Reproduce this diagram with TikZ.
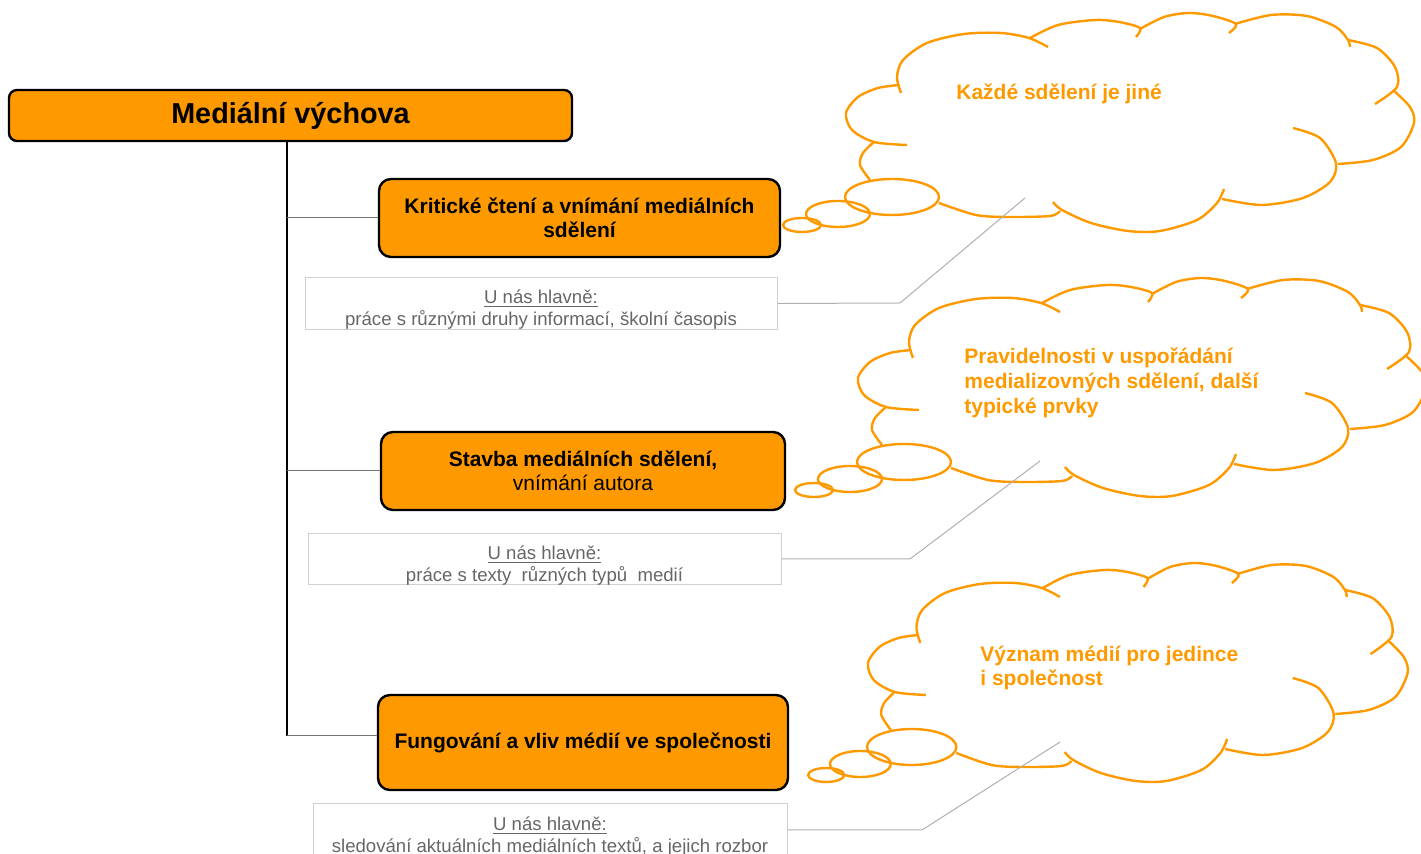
\documentclass[tikz,border=0pt]{standalone}
\usepackage{fontspec}
\setmainfont{Liberation Sans}
\usepackage{xcolor}
\definecolor{mvOrange}{RGB}{255,153,0}
\definecolor{mvText}{RGB}{102,102,102}
\definecolor{mvLine}{RGB}{175,175,175}
\definecolor{mvFrame}{RGB}{208,208,208}

% one thought cloud, drawn in local pixels (left edge = 0, top = 0)
\newcommand{\thoughtcloud}{%
  \draw[cloudline] plot[smooth] coordinates {(55,80) (51,64) (57,47) (81,30) (118,21) (155,20) (183,25) (202,34)};
  \draw[cloudline] plot[smooth] coordinates {(184,25) (212,12) (249,7) (273,9) (294,15) (290,24)};
  \draw[cloudline] plot[smooth] coordinates {(294,16) (318,4) (343,0) (367,3) (390,11) (383,20)};
  \draw[cloudline] plot[smooth] coordinates {(389,11) (425,2) (461,3) (490,14) (502,27) (504,34)};
  \draw[cloudline] plot[smooth] coordinates {(502,27) (531,35) (549,54) (551,74) (529,91)};
  \draw[cloudline] plot[smooth] coordinates {(547,77) (564,94) (568,110) (555,134) (527,147) (492,151)};
  \draw[cloudline] plot[smooth] coordinates {(447,115) (474,125) (490,150) (484,169) (457,185) (416,192) (376,186)};
  \draw[cloudline] plot[smooth] coordinates {(378,176) (371,190) (351,207) (314,218) (282,218) (245,210) (216,197) (207,189)};
  \draw[cloudline] plot[smooth] coordinates {(214,198) (204,203) (163,204) (130,202) (93,190)};
  \draw[cloudline] plot[smooth] coordinates {(53,72) (32,75) (12,84) (0,100) (6,117) (28,129) (61,132)};
  \draw[cloudline] plot[smooth] coordinates {(28,129) (17,140) (14,152) (24,167)};
  % tail
  \draw[cloudline] (46,184) ellipse [x radius=47, y radius=18];
  \draw[cloudline] (-8,201) ellipse [x radius=32, y radius=13];
  \draw[cloudline] (-44,212) ellipse [x radius=19, y radius=7];
}
\newcommand{\notehead}{\rule{0pt}{13pt}\underline{U nás hlavně:}}

\begin{document}
\begin{tikzpicture}[x=0.5pt, y=-0.5pt]
            \tikzstyle{titlebox} = [draw=black, line width=1.2pt, fill=mvOrange, rounded corners=4pt, minimum width=281.5pt, minimum height=25.5pt, font=\fontsize{14.4}{17}\selectfont\bfseries, inner sep=0pt]
            \tikzstyle{topicbox} = [draw=black, line width=1.2pt, fill=mvOrange, rounded corners=6pt, minimum height=39pt, font=\fontsize{10.5}{12}\selectfont\bfseries, align=center, inner sep=0pt]
            \tikzstyle{notebox} = [draw=mvFrame, line width=0.5pt, minimum width=236pt, minimum height=26pt, font=\fontsize{9.3}{11}\selectfont, text=mvText, align=center, inner sep=0pt]
            \tikzstyle{ideatext} = [anchor=base west, inner sep=0pt, align=left, text=mvOrange, font=\fontsize{10.5}{12.5}\selectfont\bfseries]
            \tikzstyle{cloudline} = [draw=mvOrange, line width=1.2pt]
            \tikzstyle{branch} = [draw=black!55, line width=0.5pt]
            \tikzstyle{leader} = [draw=mvLine, line width=0.5pt]

            \useasboundingbox (0,0) rectangle (1421,854);
            \clip (0,0) rectangle (1421,854);

            % Title and trunk
            \node[titlebox] (title) at (290.5,115.5) {Mediální výchova};
            \coordinate (trunktop) at (287,141);
            \coordinate (trunkend) at (287,736);
            \draw[line width=1.3pt] (trunktop) -- (trunkend);

            % Topics
            \node[topicbox, minimum width=200.5pt] (topic1) at (579.5,218) {Kritické čtení a vnímání mediálních\\sdělení};
            \node[topicbox, minimum width=202pt] (topic2) at (583,471) {Stavba mediálních sdělení,\\{\mdseries vnímání autora}};
            \node[topicbox, minimum width=205pt, minimum height=47.5pt] (topic3) at (583,742.5) {Fungování a vliv médií ve společnosti};
            \draw[branch] (trunktop |- topic1.west) -- (topic1.west);
            \draw[branch] (trunktop |- topic2.west) -- (topic2.west);
            \draw[branch] (trunkend) -- (trunkend -| topic3.west);

            % Notes
            \node[notebox] (note1) at (541,303.5) {\notehead\\práce s různými druhy informací, školní časopis};
            \node[notebox, minimum width=236.5pt, minimum height=25pt] (note2) at (544.5,559) {\notehead\\práce s texty \ různých typů \ medií};
            \node[notebox, minimum width=237pt] (note3) at (550,830) {\notehead\\sledování aktuálních mediálních textů, a jejich rozbor};

            % Clouds
            \begin{scope}[shift={(846,13)}]
              \thoughtcloud
            \end{scope}
            \begin{scope}[shift={(858,278)}]
              \thoughtcloud
            \end{scope}
            \begin{scope}[shift={(868,563)}, xscale=0.95]
              \thoughtcloud
            \end{scope}
            \node[ideatext] (idea1) at (956,100) {Každé sdělení je jiné};
            \node[ideatext] (idea2) at (964,414) {Pravidelnosti v uspořádání\\medializovných sdělení, další\\typické prvky};
            \node[ideatext, font=\fontsize{10.5}{12}\selectfont\bfseries] (idea3) at (980,686) {Význam médií pro jedince\\i společnost};

            % Leaders from notes into clouds
            \coordinate (tip1) at (1025,198);
            \coordinate (tip2) at (1040,461);
            \coordinate (tip3) at (1060,742);
            \draw[leader] (note1.east) -- (900,303) -- (tip1);
            \draw[leader] (note2.east) -- (910,559) -- (tip2);
            \draw[leader] (note3.east) -- (922,830) -- (tip3);
        \end{tikzpicture}
\end{document}
